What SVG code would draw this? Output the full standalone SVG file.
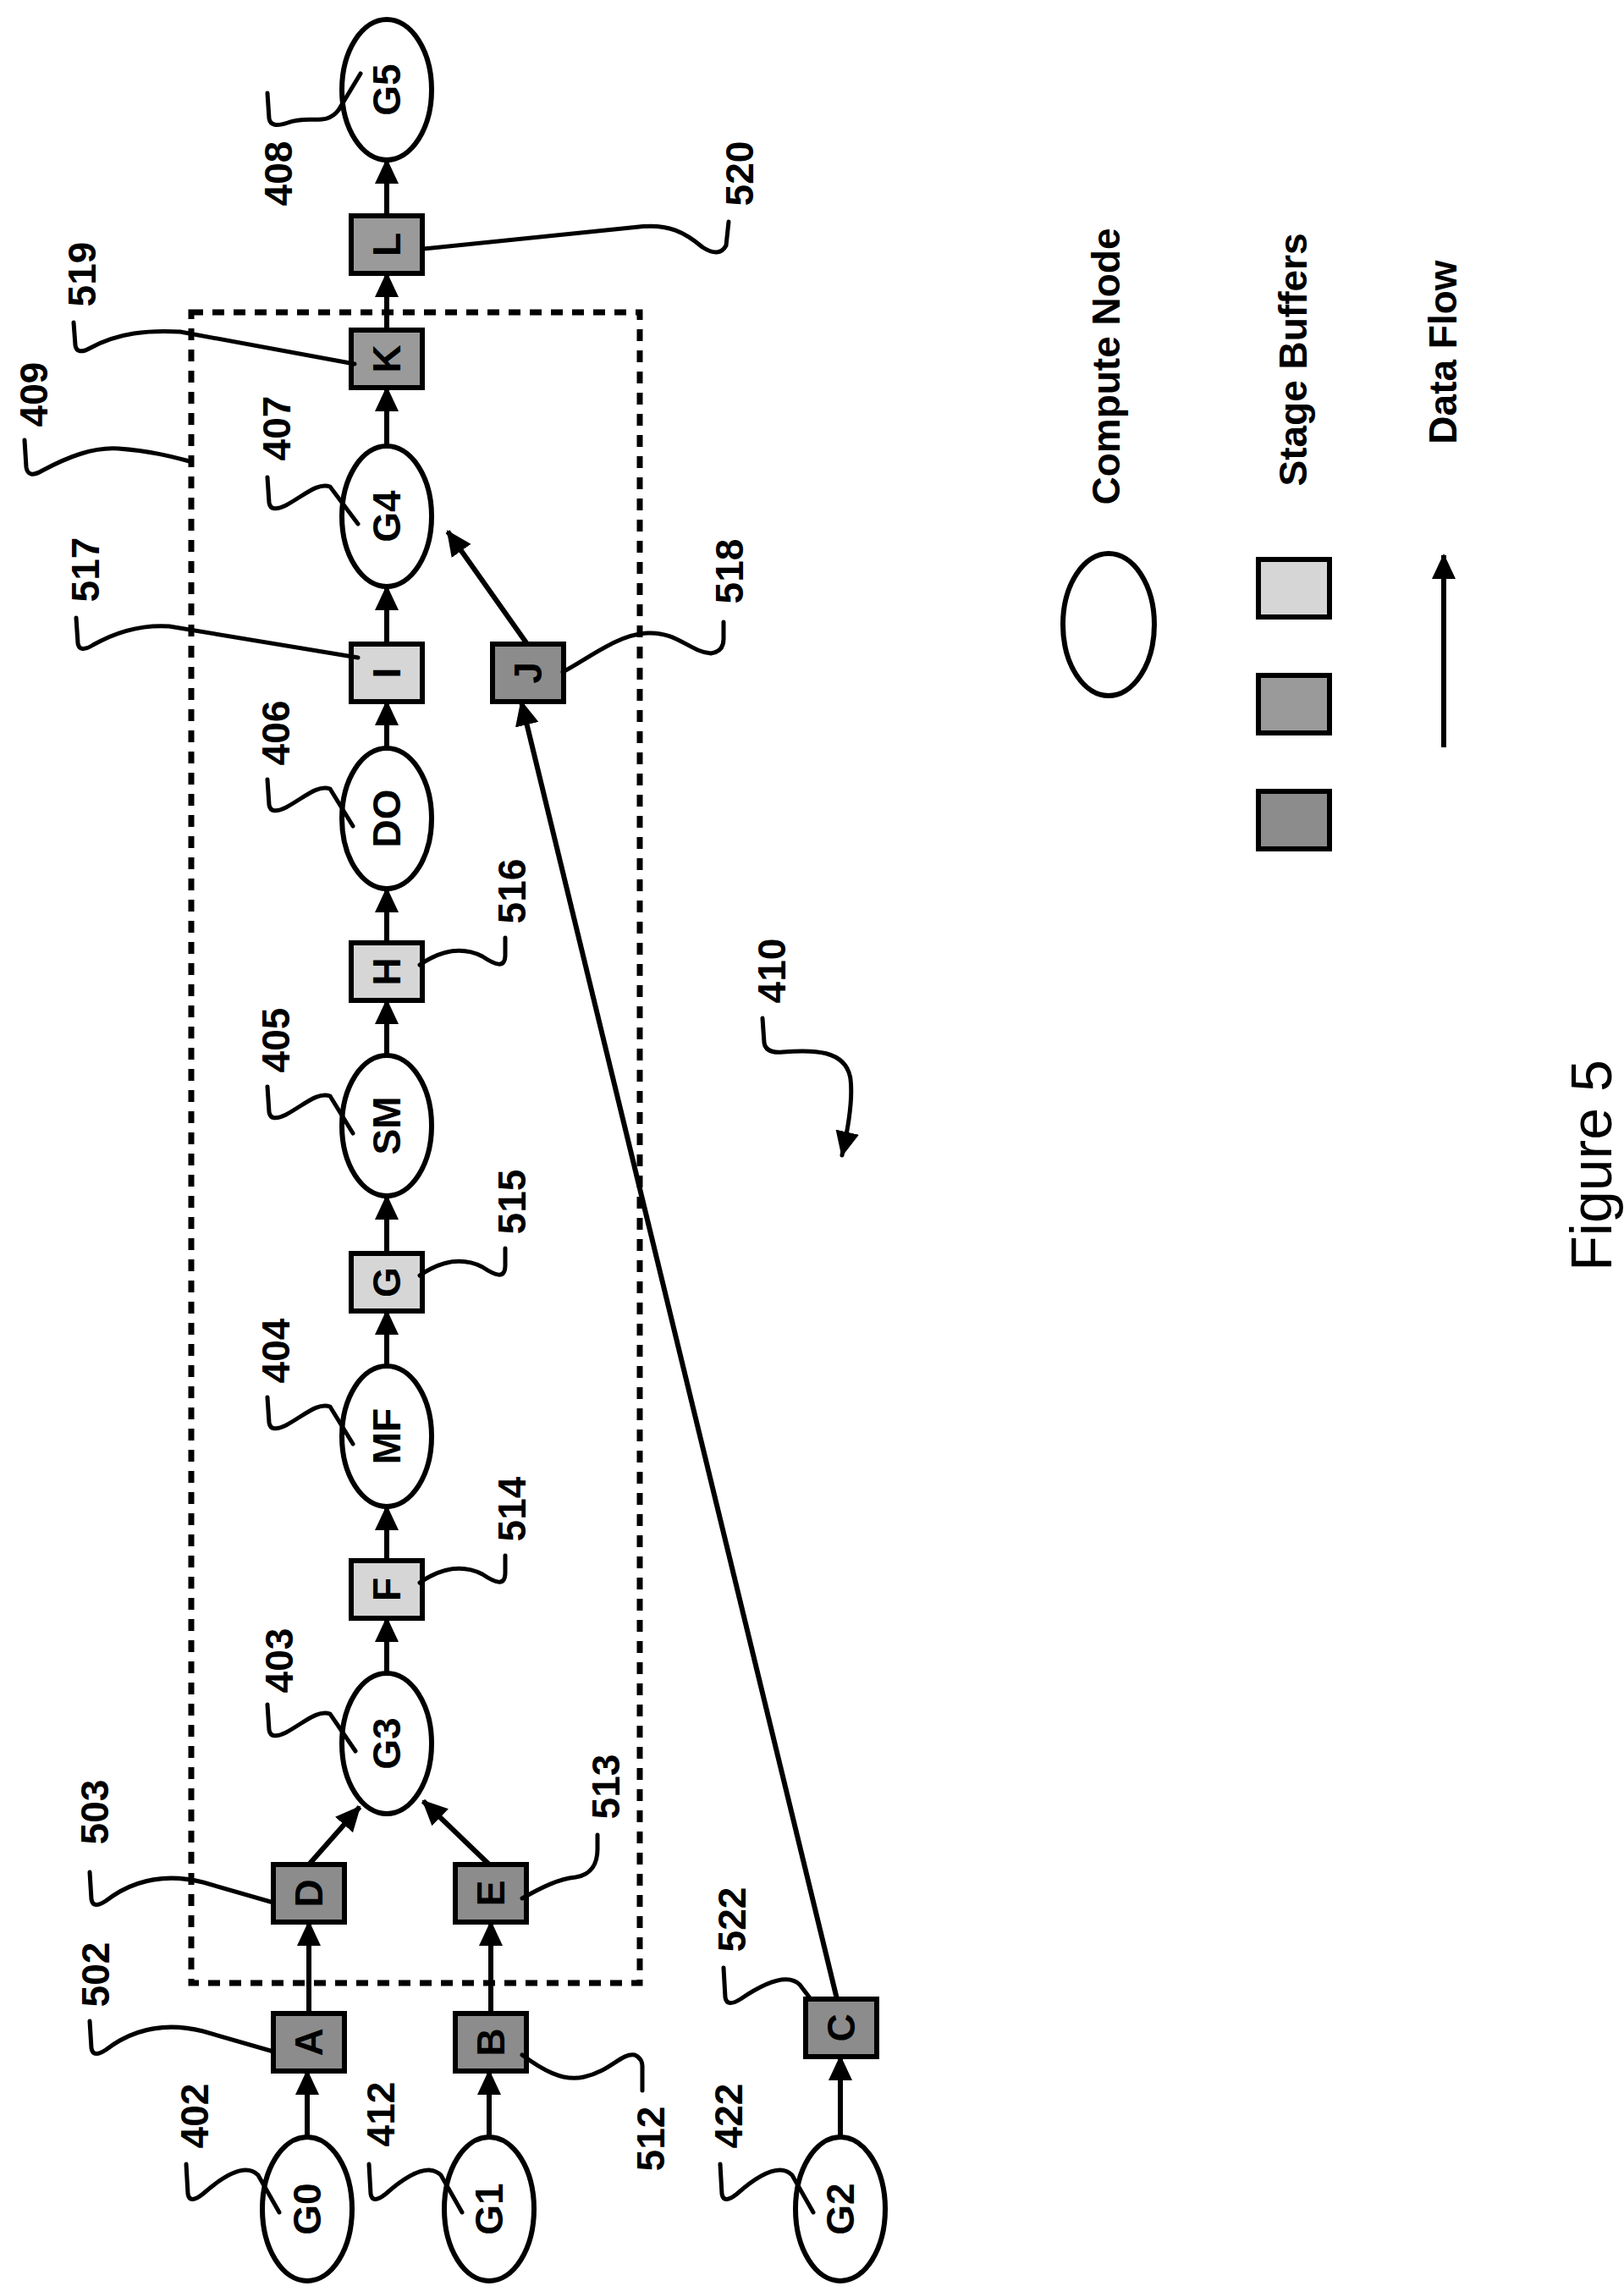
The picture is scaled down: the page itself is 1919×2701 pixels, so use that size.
<svg xmlns="http://www.w3.org/2000/svg" width="1919" height="2701" viewBox="0 0 1919 2701">
<defs>
<marker id="ah" viewBox="0 0 30 28" refX="28" refY="14" markerWidth="30" markerHeight="28" markerUnits="userSpaceOnUse" orient="auto"><path d="M0,0 L30,14 L0,28 z" fill="#000"/></marker>
</defs>
<style>
.n{fill:#fff;stroke:#000;stroke-width:6}
.bl{fill:#d6d6d6;stroke:#000;stroke-width:6}
.bm{fill:#9a9a9a;stroke:#000;stroke-width:6}
.bd{fill:#8c8c8c;stroke:#000;stroke-width:6}
.t{font-family:"Liberation Sans",Arial,sans-serif;font-weight:bold;font-size:46px;text-anchor:middle;dominant-baseline:central}
.c{fill:none;stroke:#000;stroke-width:6}
.a{fill:none;stroke:#000;stroke-width:6;marker-end:url(#ah)}
.l{fill:none;stroke:#000;stroke-width:5;stroke-linecap:round}
</style>
<rect x="226" y="369" width="530" height="1974" fill="none" stroke="#000" stroke-width="7" stroke-dasharray="14,11"/>
<g id="connectors">
<line class="a" x1="457" y1="255" x2="457" y2="189"/>
<line class="a" x1="457" y1="390" x2="457" y2="323"/>
<line class="a" x1="457" y1="527" x2="457" y2="458"/>
<line class="a" x1="457" y1="761" x2="457" y2="693"/>
<line class="a" x1="457" y1="884" x2="457" y2="829"/>
<line class="a" x1="457" y1="1114" x2="457" y2="1050"/>
<line class="a" x1="457" y1="1247" x2="457" y2="1182"/>
<line class="a" x1="457" y1="1481" x2="457" y2="1413"/>
<line class="a" x1="457" y1="1614" x2="457" y2="1549"/>
<line class="a" x1="457" y1="1844" x2="457" y2="1780"/>
<line class="a" x1="457" y1="1977" x2="457" y2="1912"/>
<line class="a" x1="365" y1="2203" x2="425" y2="2135"/>
<line class="a" x1="578" y1="2203" x2="500" y2="2128"/>
<line class="a" x1="365" y1="2379" x2="365" y2="2271"/>
<line class="a" x1="580" y1="2379" x2="580" y2="2271"/>
<line class="a" x1="363" y1="2525" x2="363" y2="2447"/>
<line class="a" x1="578" y1="2525" x2="578" y2="2447"/>
<line class="a" x1="993" y1="2525" x2="993" y2="2430"/>
<line class="a" x1="989" y1="2362" x2="616" y2="829"/>
<line class="a" x1="623" y1="761" x2="529" y2="628"/>
</g>
<g id="G5"><ellipse class="n" cx="457" cy="106" rx="53" ry="83"/><text class="t" transform="translate(457,106) rotate(-90)">G5</text></g>
<g id="L"><rect class="bm" x="415" y="255" width="84" height="68"/><text class="t" transform="translate(457,289) rotate(-90)">L</text></g>
<g id="K"><rect class="bm" x="415" y="390" width="84" height="68"/><text class="t" transform="translate(457,424) rotate(-90)">K</text></g>
<g id="G4"><ellipse class="n" cx="457" cy="610" rx="53" ry="83"/><text class="t" transform="translate(457,610) rotate(-90)">G4</text></g>
<g id="I"><rect class="bl" x="415" y="761" width="84" height="68"/><text class="t" transform="translate(457,795) rotate(-90)">I</text></g>
<g id="J"><rect class="bd" x="582" y="761" width="84" height="68"/><text class="t" transform="translate(624,795) rotate(-90)">J</text></g>
<g id="DO"><ellipse class="n" cx="457" cy="967" rx="53" ry="83"/><text class="t" transform="translate(457,967) rotate(-90)">DO</text></g>
<g id="H"><rect class="bl" x="415" y="1114" width="84" height="68"/><text class="t" transform="translate(457,1148) rotate(-90)">H</text></g>
<g id="SM"><ellipse class="n" cx="457" cy="1330" rx="53" ry="83"/><text class="t" transform="translate(457,1330) rotate(-90)">SM</text></g>
<g id="Gbuf"><rect class="bl" x="415" y="1481" width="84" height="68"/><text class="t" transform="translate(457,1515) rotate(-90)">G</text></g>
<g id="MF"><ellipse class="n" cx="457" cy="1697" rx="53" ry="83"/><text class="t" transform="translate(457,1697) rotate(-90)">MF</text></g>
<g id="F"><rect class="bl" x="415" y="1844" width="84" height="68"/><text class="t" transform="translate(457,1878) rotate(-90)">F</text></g>
<g id="G3"><ellipse class="n" cx="457" cy="2060" rx="53" ry="83"/><text class="t" transform="translate(457,2060) rotate(-90)">G3</text></g>
<g id="D"><rect class="bd" x="323" y="2203" width="84" height="68"/><text class="t" transform="translate(365,2237) rotate(-90)">D</text></g>
<g id="E"><rect class="bd" x="538" y="2203" width="84" height="68"/><text class="t" transform="translate(580,2237) rotate(-90)">E</text></g>
<g id="A"><rect class="bd" x="323" y="2379" width="84" height="68"/><text class="t" transform="translate(365,2413) rotate(-90)">A</text></g>
<g id="B"><rect class="bd" x="538" y="2379" width="84" height="68"/><text class="t" transform="translate(580,2413) rotate(-90)">B</text></g>
<g id="C"><rect class="bd" x="952" y="2362" width="84" height="68"/><text class="t" transform="translate(994,2396) rotate(-90)">C</text></g>
<g id="G0"><ellipse class="n" cx="363" cy="2610" rx="53" ry="85"/><text class="t" transform="translate(363,2610) rotate(-90)">G0</text></g>
<g id="G1"><ellipse class="n" cx="578" cy="2610" rx="53" ry="85"/><text class="t" transform="translate(578,2610) rotate(-90)">G1</text></g>
<g id="G2"><ellipse class="n" cx="993" cy="2610" rx="53" ry="85"/><text class="t" transform="translate(993,2610) rotate(-90)">G2</text></g>
<g id="leaders">
<path class="l" d="M316,110 L318,140 Q320,152 340,145 C365,135 385,150 400,130 L426,87"/>
<path class="l" d="M87,381 L89,408 Q91,420 107,411 C140,393 175,390 213,392 L419,430"/>
<path class="l" d="M29,520 L31,552 Q33,566 50,556 C80,540 110,528 140,530 C180,533 205,540 224,545"/>
<path class="l" d="M500,294 L755,268 C790,264 810,275 830,292 Q850,305 858,290 L861,262"/>
<path class="l" d="M90,730 L92,760 Q94,772 110,762 C140,745 170,738 200,740 L423,777"/>
<path class="l" d="M665,794 C700,775 730,750 765,748 C800,746 815,770 840,772 Q855,770 855,755 L855,735"/>
<path class="l" d="M316,564 L318,594 Q320,606 338,597 C360,585 375,570 390,575 L423,619"/>
<path class="l" d="M316,921 L318,951 Q320,963 338,954 C360,942 375,927 390,932 L417,976"/>
<path class="l" d="M316,1284 L318,1314 Q320,1326 338,1317 C360,1305 375,1290 390,1295 L417,1339"/>
<path class="l" d="M316,1651 L318,1681 Q320,1693 338,1684 C360,1672 375,1657 390,1662 L417,1706"/>
<path class="l" d="M316,2014 L318,2044 Q320,2056 338,2047 C360,2035 375,2020 390,2025 L420,2069"/>
<path class="l" d="M496,1140 C525,1120 550,1120 570,1130 C585,1140 597,1145 597,1128 L597,1108"/>
<path class="l" d="M496,1507 C525,1487 550,1487 570,1497 C585,1507 597,1512 597,1495 L597,1475"/>
<path class="l" d="M496,1870 C525,1850 550,1850 570,1860 C585,1870 597,1875 597,1858 L597,1838"/>
<path class="l" d="M106,2212 L108,2244 Q110,2256 125,2246 C160,2219 200,2214 240,2224 L323,2248"/>
<path class="l" d="M106,2388 L108,2420 Q110,2432 125,2422 C160,2395 200,2390 240,2400 L323,2424"/>
<path class="l" d="M617,2243 C640,2230 660,2220 680,2218 C700,2215 706,2200 706,2185 L706,2168"/>
<path class="l" d="M617,2428 C640,2445 665,2460 690,2454 C720,2448 735,2425 750,2428 Q760,2432 759,2445 L759,2470"/>
<path class="l" d="M855,2325 L857,2360 Q859,2372 875,2362 C900,2345 930,2330 945,2345 L958,2362"/>
<path class="l" d="M220,2557 L222,2592 Q224,2605 240,2592 C265,2570 290,2555 305,2570 L330,2614"/>
<path class="l" d="M436,2557 L438,2592 Q440,2605 456,2592 C481,2570 506,2555 521,2570 L546,2614"/>
<path class="l" d="M851,2557 L853,2592 Q855,2605 871,2592 C896,2570 921,2555 936,2570 L961,2614"/>
<path class="l" d="M901,1203 L903,1232 Q905,1245 925,1243 C960,1240 1000,1240 1005,1275 C1008,1300 1003,1330 995,1365" marker-end="url(#ah)"/>
</g>
<g id="labels" class="t">
<text class="t" transform="translate(329,205) rotate(-90)">408</text>
<text class="t" transform="translate(874,205) rotate(-90)">520</text>
<text class="t" transform="translate(97,324) rotate(-90)">519</text>
<text class="t" transform="translate(40,466) rotate(-90)">409</text>
<text class="t" transform="translate(327,506) rotate(-90)">407</text>
<text class="t" transform="translate(101,673) rotate(-90)">517</text>
<text class="t" transform="translate(862,675) rotate(-90)">518</text>
<text class="t" transform="translate(326,866) rotate(-90)">406</text>
<text class="t" transform="translate(605,1053) rotate(-90)">516</text>
<text class="t" transform="translate(912,1147) rotate(-90)">410</text>
<text class="t" transform="translate(326,1229) rotate(-90)">405</text>
<text class="t" transform="translate(605,1420) rotate(-90)">515</text>
<text class="t" transform="translate(326,1596) rotate(-90)">404</text>
<text class="t" transform="translate(605,1783) rotate(-90)">514</text>
<text class="t" transform="translate(330,1962) rotate(-90)">403</text>
<text class="t" transform="translate(716,2111) rotate(-90)">513</text>
<text class="t" transform="translate(112,2141) rotate(-90)">503</text>
<text class="t" transform="translate(865,2268) rotate(-90)">522</text>
<text class="t" transform="translate(113,2333) rotate(-90)">502</text>
<text class="t" transform="translate(450,2498) rotate(-90)">412</text>
<text class="t" transform="translate(230,2500) rotate(-90)">402</text>
<text class="t" transform="translate(861,2500) rotate(-90)">422</text>
<text class="t" transform="translate(769,2527) rotate(-90)">512</text>
</g>
<g id="legend">
<ellipse class="n" cx="1310" cy="738" rx="54" ry="84"/>
<text class="t" transform="translate(1307,433) rotate(-90)">Compute Node</text>
<rect class="bl" x="1487" y="661" width="84" height="68"/>
<rect class="bm" x="1487" y="798" width="84" height="68"/>
<rect class="bd" x="1487" y="935" width="84" height="68"/>
<text class="t" transform="translate(1528,425) rotate(-90)">Stage Buffers</text>
<line class="a" x1="1706" y1="883" x2="1706" y2="656"/>
<text class="t" transform="translate(1705,416) rotate(-90)">Data Flow</text>
</g>
<text transform="translate(1880,1377) rotate(-90)" font-family="Liberation Sans,Arial,sans-serif" font-size="68" text-anchor="middle" dominant-baseline="central">Figure 5</text>
</svg>
